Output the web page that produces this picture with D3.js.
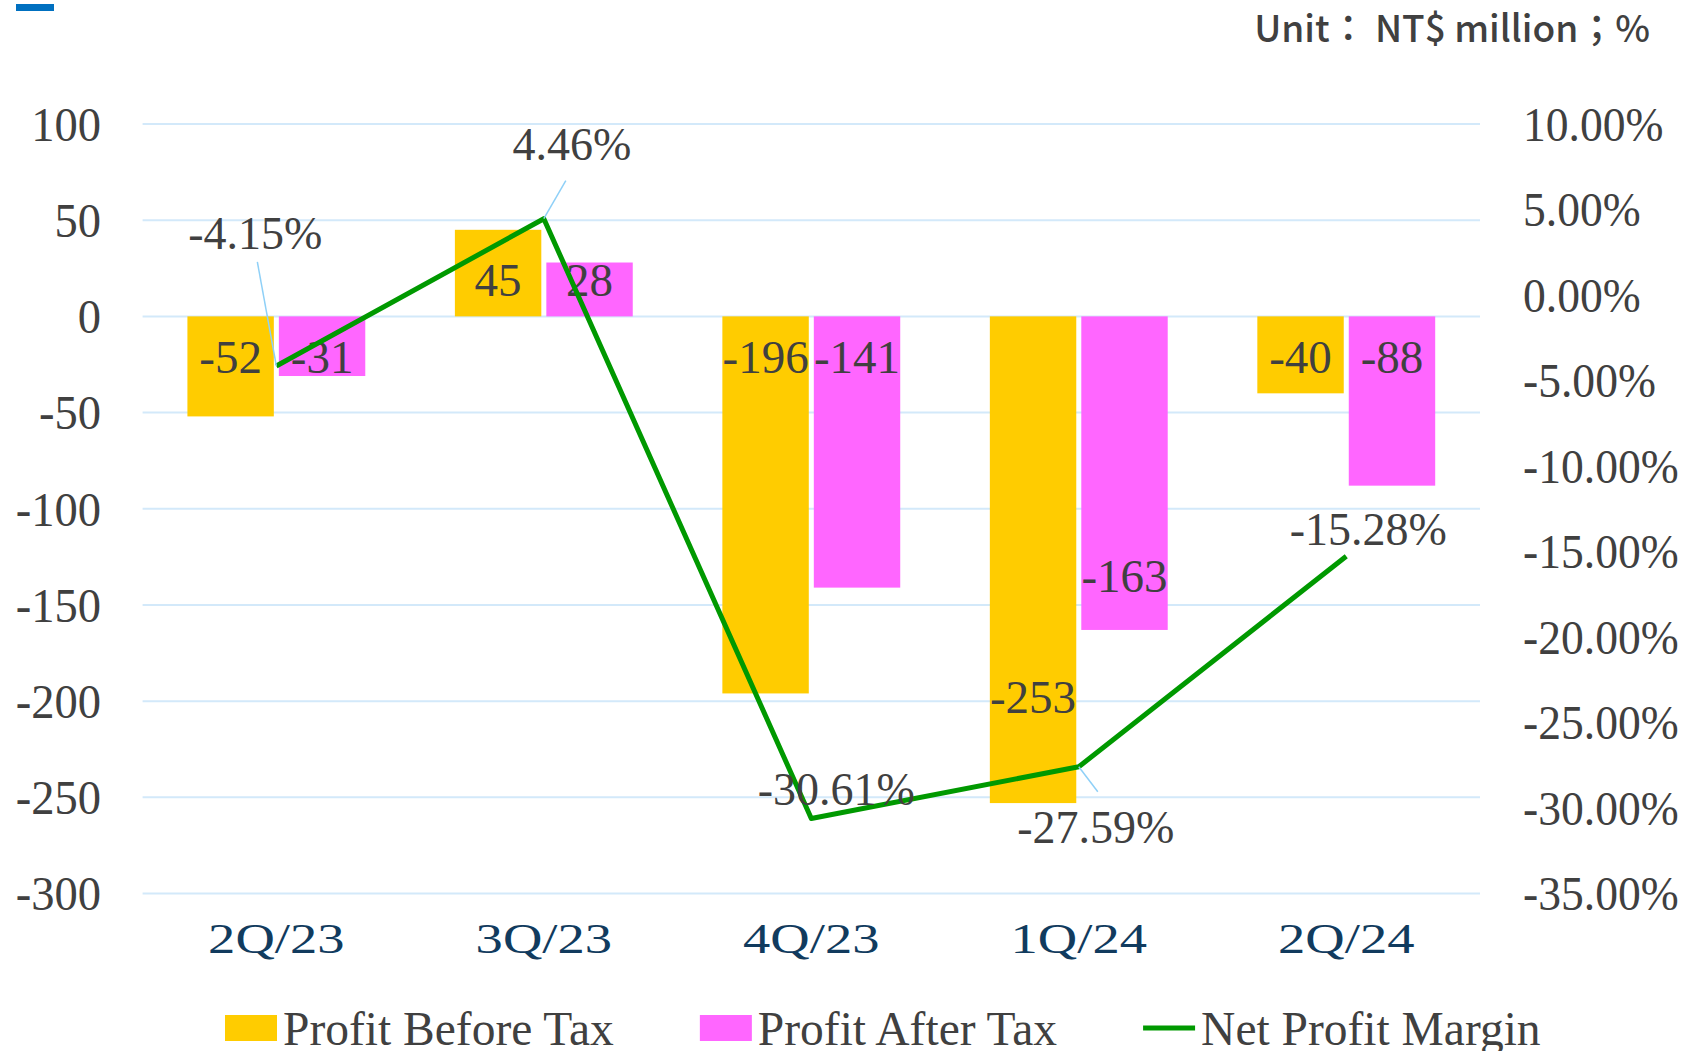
<!DOCTYPE html>
<html>
<head>
<meta charset="utf-8">
<script src="https://cdn.jsdelivr.net/npm/d3@7"></script>
<style>
    body { margin: 0; background: #fff; }
    svg { display: block; }
</style>
</head>
<body>
<svg id="chart"></svg>
<script>
'use strict';

let quarters = ["2Q/23", "3Q/23", "4Q/23", "1Q/24", "2Q/24"];
let profitBeforeTax = [-52, 45, -196, -253, -40];
let profitAfterTax = [-31, 28, -141, -163, -88];
let netProfitMargin = [-4.15, 4.46, -30.61, -27.59, -15.28];

let leftTicks = [100, 50, 0, -50, -100, -150, -200, -250, -300];
let rightTicks = [10, 5, 0, -5, -10, -15, -20, -25, -30, -35];

let seriesNames = ["Profit Before Tax", "Profit After Tax", "Net Profit Margin"];
let colors = ["#FFCC00", "#FF66FF", "#009900"];

// where excel put each margin label, relative to its point (pixels)
let marginLabelLayout = [
    { dx: -21, dy: -133, leader: [2, 29] },
    { dx: 28, dy: -75, leader: [-6, 37] },
    { dx: 25, dy: -29, leader: null },
    { dx: 17, dy: 60, leader: [2, -35] },
    { dx: 22, dy: -27, leader: null }
];

const width = 1692, height = 1051;
const textColor = "#404040";
const serif = "'Liberation Serif', 'Times New Roman', serif";

let svg = d3.select("#chart")
    .attr("width", width)
    .attr("height", height);

let x = d3.scaleBand()
    .domain(quarters)
    .range([142.6, 1480]);

let xSub = d3.scaleBand()
    .domain([0, 1])
    .range([0, x.bandwidth()])
    .paddingInner(0.055)
    .paddingOuter(0.49);

let y = d3.scaleLinear()
    .domain([-300, 100])
    .range([893.5, 124]);

let yRight = d3.scaleLinear()
    .domain([-35, 10])
    .range([893.5, 124]);

// little blue mark top left
svg.append("rect")
    .attr("x", 16).attr("y", 4)
    .attr("width", 38).attr("height", 7)
    .style("fill", "#0070C0");

svg.append("text")
    .attr("x", 1650)
    .attr("y", 42)
    .style("text-anchor", "end")
    .style("font-family", "'Noto Sans CJK TC', 'Noto Sans', sans-serif")
    .style("font-size", "37px")
    .style("font-weight", 500)
    .style("fill", textColor)
    .text("Unit： NT$ million；%");

// gridlines
svg.append("g")
    .selectAll("line")
    .data(leftTicks)
    .enter()
    .append("line")
    .attr("x1", x.range()[0])
    .attr("x2", x.range()[1])
    .attr("y1", d => y(d))
    .attr("y2", d => y(d))
    .style("stroke", "#D3E9FA")
    .style("stroke-width", "2px");

// left axis
let leftAxis = svg.append("g")
    .attr("transform", "translate(101,0)")
    .call(d3.axisLeft(y).tickValues(leftTicks).tickSize(0).tickPadding(0)
        .tickFormat(d => String(d)));
leftAxis.select(".domain").remove();
leftAxis.selectAll(".tick text")
    .style("font-family", serif)
    .style("font-size", "48px")
    .style("fill", textColor)
    .attr("dy", "0.34em")
    .attr("transform", "scale(0.97,1)");

// right axis
let rightAxis = svg.append("g")
    .attr("transform", "translate(1523,0)")
    .call(d3.axisRight(yRight).tickValues(rightTicks).tickSize(0).tickPadding(0)
        .tickFormat(d => d.toFixed(2) + "%"));
rightAxis.select(".domain").remove();
rightAxis.selectAll(".tick text")
    .style("font-family", serif)
    .style("font-size", "48px")
    .style("fill", textColor)
    .attr("dy", "0.34em")
    .attr("transform", "scale(0.95,1)");

// category axis
let bottomAxis = svg.append("g")
    .attr("transform", "translate(0,953)")
    .call(d3.axisBottom(x).tickSize(0).tickPadding(0));
bottomAxis.select(".domain").remove();
bottomAxis.selectAll(".tick text")
    .style("font-family", serif)
    .style("font-size", "42px")
    .style("fill", "#113B5E")
    .attr("y", 0)
    .attr("dy", 0)
    .attr("transform", "scale(1.3,1)");

// bars
let barSeries = [profitBeforeTax, profitAfterTax];
let bars = svg.append("g");
barSeries.forEach((values, s) => {
    bars.append("g")
        .selectAll("rect")
        .data(values)
        .enter()
        .append("rect")
        .attr("x", (d, i) => x(quarters[i]) + xSub(s))
        .attr("width", xSub.bandwidth())
        .attr("y", d => y(Math.max(0, d)))
        .attr("height", d => Math.abs(y(d) - y(0)))
        .style("fill", colors[s]);
});

// bar labels: inside base, except the two excel moved down
let labelAnchor = [
    [null, null, null, -198, null],
    [null, null, null, -135, null]
];
let barLabels = svg.append("g");
barSeries.forEach((values, s) => {
    barLabels.append("g")
        .selectAll("text")
        .data(values)
        .enter()
        .append("text")
        .attr("x", (d, i) => x(quarters[i]) + xSub(s) + xSub.bandwidth() / 2)
        .attr("y", (d, i) => {
            let a = labelAnchor[s][i];
            if (a !== null) return y(a) + 16;
            return d < 0 ? y(0) + 57 : y(0) - 20;
        })
        .style("text-anchor", "middle")
        .style("font-family", serif)
        .style("font-size", "47px")
        .style("fill", textColor)
        .text(d => d);
});

// net profit margin line
let cx = (d, i) => x(quarters[i]) + x.bandwidth() / 2;
let line = d3.line()
    .x(cx)
    .y(d => yRight(d));

svg.append("path")
    .datum(netProfitMargin)
    .attr("d", line)
    .style("fill", "none")
    .style("stroke", colors[2])
    .style("stroke-width", "5px")
    .style("stroke-linejoin", "round");

let marginLabels = svg.append("g");
netProfitMargin.forEach((v, i) => {
    let px = cx(v, i), py = yRight(v);
    let lay = marginLabelLayout[i];
    if (lay.leader) {
        marginLabels.append("line")
            .attr("x1", px + lay.dx + lay.leader[0])
            .attr("y1", py + lay.dy + lay.leader[1])
            .attr("x2", px)
            .attr("y2", py)
            .style("stroke", "#8FD0F7")
            .style("stroke-width", "1.5px");
    }
    marginLabels.append("text")
        .attr("x", px + lay.dx)
        .attr("y", py + lay.dy + 16)
        .style("text-anchor", "middle")
        .style("font-family", serif)
        .style("font-size", "46px")
        .style("fill", textColor)
        .text(v.toFixed(2) + "%");
});

// legend
let legend = svg.append("g").attr("transform", "translate(225,0)");
let lx = 0;
seriesNames.forEach((name, s) => {
    if (s < 2) {
        legend.append("rect")
            .attr("x", lx).attr("y", 1015)
            .attr("width", 52).attr("height", 26)
            .style("fill", colors[s]);
    } else {
        legend.append("line")
            .attr("x1", lx).attr("x2", lx + 52)
            .attr("y1", 1028).attr("y2", 1028)
            .style("stroke", colors[s])
            .style("stroke-width", "5px");
    }
    let t = legend.append("text")
        .attr("x", lx + 58)
        .attr("y", 1045)
        .style("font-family", serif)
        .style("font-size", "47.5px")
        .style("fill", textColor)
        .text(name);
    lx += 58 + t.node().getComputedTextLength() + 86;
});
</script>
</body>
</html>
